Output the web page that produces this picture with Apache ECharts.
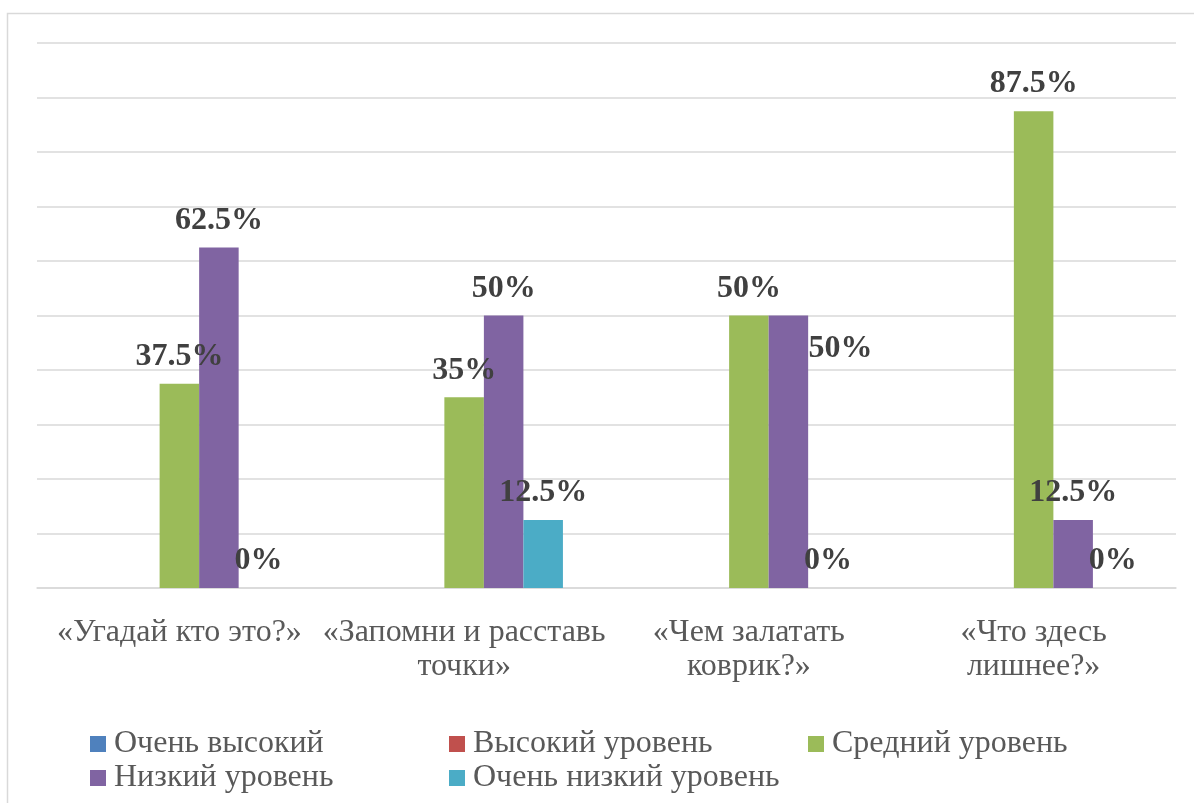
<!DOCTYPE html>
<html>
<head>
<meta charset="utf-8">
<script src="https://cdn.jsdelivr.net/npm/echarts@6/dist/echarts.min.js"></script>
<style>html,body{margin:0;padding:0;background:#fff}#c{width:1194px;height:803px}</style>
</head>
<body>
<div id="c"></div>
<script>
const categories = ['«Угадай кто это?»', '«Запомни и расставь\nточки»', '«Чем залатать\nковрик?»', '«Что здесь\nлишнее?»'];
const seriesNames = ['Очень высокий', 'Высокий уровень', 'Средний уровень', 'Низкий уровень', 'Очень низкий уровень'];
const veryHigh = [0, 0, 0, 0];
const high = [0, 0, 0, 0];
const medium = [37.5, 35, 50, 87.5];
const low = [62.5, 50, 50, 12.5];
const veryLow = [0, 12.5, 0, 0];

const colors = ['#4F81BD', '#C0504D', '#9BBB59', '#8064A2', '#4BACC6'];
const allData = [veryHigh, high, medium, low, veryLow];
const showLabels = [false, false, true, true, true];
const FONT = '"Liberation Serif", "Times New Roman", serif';

const chart = echarts.init(document.getElementById('c'), null, {renderer: 'canvas'});

const series = allData.map((arr, si) => ({
  name: seriesNames[si],
  type: 'bar',
  barGap: '0%',
  barCategoryGap: '30.6%',
  itemStyle: {color: colors[si]},
  label: {
    show: showLabels[si],
    position: 'top',
    distance: 11,
    formatter: p => p.value + '%',
    fontFamily: FONT,
    fontWeight: 'bold',
    fontSize: 32,
    color: '#404040'
  },
  data: arr.map((v, i) => {
    // the "Низкий уровень" label in the third group sits beside its bar
    if (si === 3 && i === 2) return {value: v, label: {offset: [52, 60]}};
    return v;
  })
}));

const legendLeft = [90, 449, 808, 90, 449];
const legendTop = [727, 727, 727, 761, 761];
const legends = seriesNames.map((n, i) => ({
  data: [n],
  left: legendLeft[i],
  top: legendTop[i],
  padding: 0,
  itemWidth: 16,
  itemHeight: 16,
  icon: 'rect',
  selectedMode: false,
  textStyle: {fontFamily: FONT, fontSize: 32, color: '#595959', lineHeight: 34, padding: [0, 0, 0, 3]}
}));

chart.setOption({
  animation: false,
  backgroundColor: '#fff',
  color: colors,
  graphic: [{
    type: 'rect',
    shape: {x: 7.5, y: 13.5, width: 1300, height: 900},
    style: {fill: 'none', stroke: '#d9d9d9', lineWidth: 1.5},
    silent: true
  }],
  legend: legends,
  grid: {left: 37, right: 18, top: 43, bottom: 215, containLabel: false},
  xAxis: {
    type: 'category',
    data: categories,
    axisLine: {show: true, lineStyle: {color: '#d9d9d9', width: 1.5}},
    axisTick: {show: false},
    axisLabel: {
      interval: 0,
      margin: 28,
      fontFamily: FONT,
      fontSize: 32,
      lineHeight: 34,
      color: '#595959'
    }
  },
  yAxis: {
    type: 'value',
    min: 0,
    max: 100,
    interval: 10,
    axisLabel: {show: false},
    axisLine: {show: false},
    axisTick: {show: false},
    splitLine: {lineStyle: {color: '#d9d9d9', width: 1.5}}
  },
  series: series
});
</script>
</body>
</html>
